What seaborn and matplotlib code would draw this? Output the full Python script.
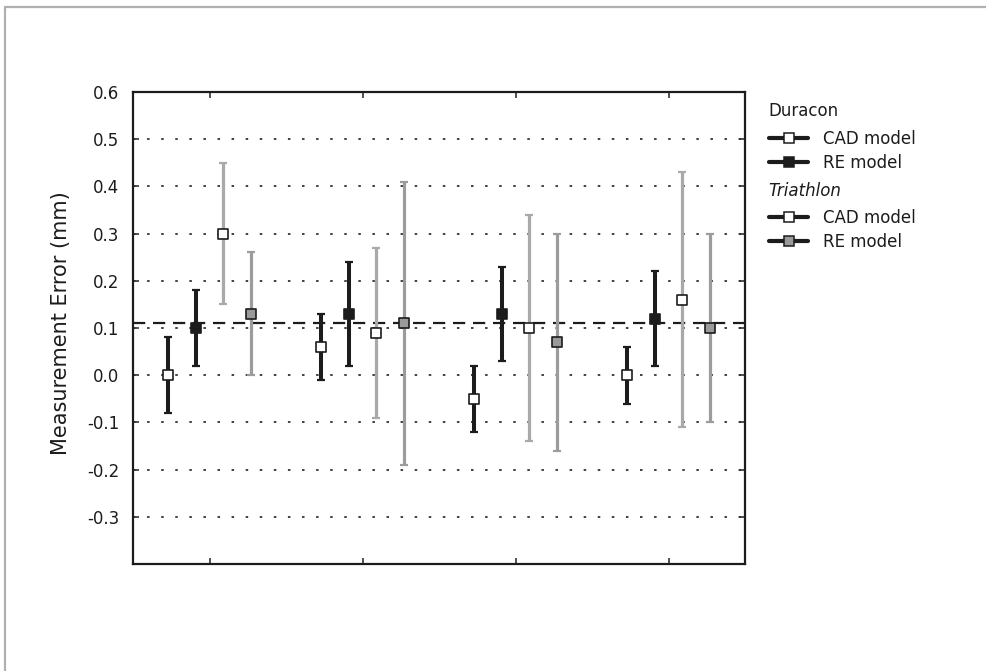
import numpy as np
import pandas as pd
import matplotlib
matplotlib.use("Agg")
import matplotlib.pyplot as plt
from matplotlib.lines import Line2D
import seaborn as sns

# ---------------- data ----------------
conditions = ["1", "2", "3", "4"]
series_names = ["Duracon CAD model", "Duracon RE model", "Triathlon CAD model", "Triathlon RE model"]

dur_cad_mean = [0.00, 0.06, -0.05, 0.00]
dur_cad_lo = [-0.08, -0.01, -0.12, -0.06]
dur_cad_hi = [0.08, 0.13, 0.02, 0.06]

dur_re_mean = [0.10, 0.13, 0.13, 0.12]
dur_re_lo = [0.02, 0.02, 0.03, 0.02]
dur_re_hi = [0.18, 0.24, 0.23, 0.22]

tri_cad_mean = [0.30, 0.09, 0.10, 0.16]
tri_cad_lo = [0.15, -0.09, -0.14, -0.11]
tri_cad_hi = [0.45, 0.27, 0.34, 0.43]

tri_re_mean = [0.13, 0.11, 0.07, 0.10]
tri_re_lo = [0.00, -0.19, -0.16, -0.10]
tri_re_hi = [0.26, 0.41, 0.30, 0.30]

reference_value = 0.11
y_ticks = [-0.3, -0.2, -0.1, 0.0, 0.1, 0.2, 0.3, 0.4, 0.5, 0.6]
y_label = "Measurement Error (mm)"
legend_groups = ["Duracon", "Triathlon"]
legend_labels = ["CAD model", "RE model"]

# ---------------- style ----------------
sns.set_theme(style="white")
plt.rcParams["font.family"] = ["DejaVu Sans"]

DARK = "#1c1c1c"
offsets = [-0.27, -0.09, 0.09, 0.27]
bar_colors = [DARK, DARK, "#a9a9a9", "#9c9c9c"]
bar_widths = [2.9, 2.9, 2.3, 2.3]
face_colors = ["white", DARK, "white", "#9a9a9a"]

means = [dur_cad_mean, dur_re_mean, tri_cad_mean, tri_re_mean]
los = [dur_cad_lo, dur_re_lo, tri_cad_lo, tri_re_lo]
his = [dur_cad_hi, dur_re_hi, tri_cad_hi, tri_re_hi]

rows = []
for s, name in enumerate(series_names):
    for g, cond in enumerate(conditions):
        rows.append({"series": name, "cond": g, "x": g + offsets[s],
                     "mean": means[s][g], "lo": los[s][g], "hi": his[s][g]})
df = pd.DataFrame(rows)

fig = plt.figure(figsize=(9.86, 6.71), dpi=100)
ax = fig.add_axes([133 / 986, 1 - 564 / 671, (745 - 133) / 986, (564 - 92) / 671])

# grid lines (dotted)
for yv in y_ticks:
    if yv < 0.6:
        ax.axhline(yv, color="#333333", lw=1.3, ls=(0, (1.4, 6.4)), zorder=1)

# reference dashed line
ax.axhline(reference_value, color=DARK, lw=1.6, ls=(0, (5.5, 3.5)), zorder=2)

# error bars
for s, name in enumerate(series_names):
    sub = df[df["series"] == name]
    ax.errorbar(sub["x"], sub["mean"],
                yerr=[sub["mean"] - sub["lo"], sub["hi"] - sub["mean"]],
                fmt="none", ecolor=bar_colors[s], elinewidth=bar_widths[s],
                capsize=3, capthick=1.6, zorder=3)

# markers via seaborn
sns.scatterplot(data=df, x="x", y="mean", hue="series", palette=dict(zip(series_names, face_colors)),
                marker="s", s=52, edgecolor=DARK, linewidth=1.2, legend=False, ax=ax, zorder=5)

ax.set_xlim(-0.5, 3.5)
ax.set_ylim(-0.4, 0.6)
ax.set_xticks(range(len(conditions)))
ax.set_xticklabels([])
ax.set_yticks(y_ticks)
ax.set_yticklabels([f"{v:.1f}" for v in y_ticks])
ax.set_xlabel("")
ax.set_ylabel(y_label, fontsize=15, color=DARK)
ax.yaxis.set_label_coords(-0.101, 0.511)
ax.tick_params(axis="both", direction="in", length=4, width=1.2, color="#333333",
               top=True, right=True, left=True, bottom=True, labelsize=12, labelcolor=DARK, pad=10)
for sp in ax.spines.values():
    sp.set_visible(True)
    sp.set_color(DARK)
    sp.set_linewidth(1.6)

# legends
def handle(face):
    return Line2D([], [], color=DARK, lw=3, marker="s", markersize=6.5,
                  markerfacecolor=face, markeredgecolor=DARK, markeredgewidth=1.1)

common = dict(frameon=False, loc="upper left", bbox_transform=fig.transFigure,
              fontsize=12, handlelength=2.35, handletextpad=0.9, labelspacing=0.37,
              borderpad=0, borderaxespad=0)
fig.text(768 / 986, 1 - 111 / 671, legend_groups[0], fontsize=12, color=DARK, ha="left", va="center")
leg1 = ax.legend([handle("white"), handle(DARK)], legend_labels,
                 bbox_to_anchor=(769 / 986, 1 - 130 / 671), **common)
ax.add_artist(leg1)
fig.text(768 / 986, 1 - 191 / 671, legend_groups[1], fontsize=12, color=DARK, ha="left", va="center",
         fontstyle="italic")
leg2 = ax.legend([handle("white"), handle("#9a9a9a")], legend_labels,
                 bbox_to_anchor=(769 / 986, 1 - 209 / 671), **common)
for lg in (leg1, leg2):
    for t in lg.get_texts():
        t.set_color(DARK)

# outer frame (partial border of the original figure)
fig.add_artist(Line2D([5 / 986, 5 / 986], [0, 1 - 7 / 671], transform=fig.transFigure, color="#b0b0b0", lw=1.6))
fig.add_artist(Line2D([5 / 986, 1], [1 - 7 / 671, 1 - 7 / 671], transform=fig.transFigure, color="#b0b0b0", lw=1.6))

fig.savefig("out.png", dpi=100, facecolor="white")
